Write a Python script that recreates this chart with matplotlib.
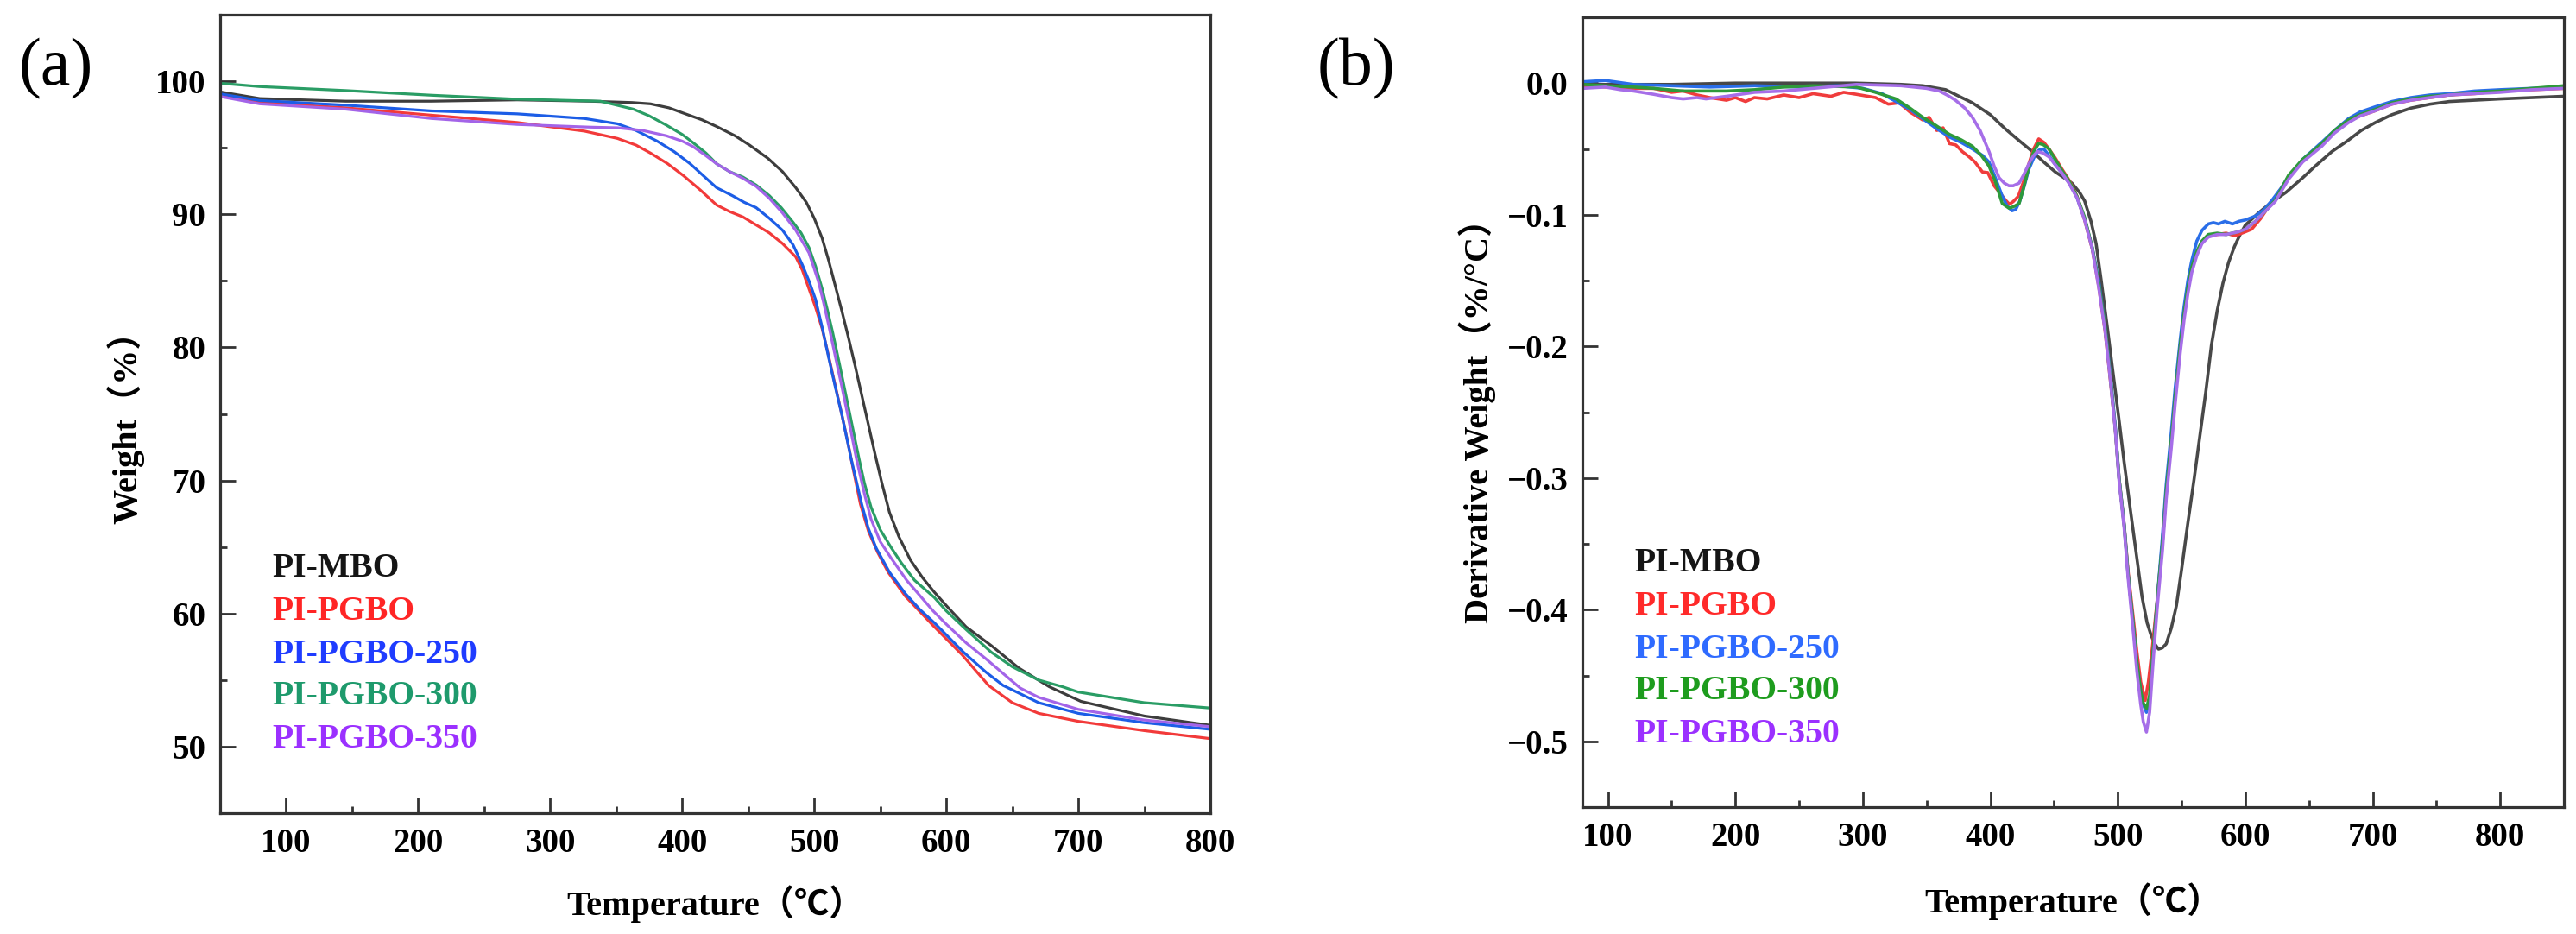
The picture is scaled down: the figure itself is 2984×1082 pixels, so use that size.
import matplotlib
matplotlib.use("Agg")
import matplotlib.pyplot as plt
from matplotlib.ticker import MultipleLocator

# ---------------- data ----------------
series_names = ["PI-MBO", "PI-PGBO", "PI-PGBO-250", "PI-PGBO-300", "PI-PGBO-350"]

# TGA: (temperature degC, weight %)
tga_mbo = [(50, 99.2), (80, 98.7), (145, 98.5), (210, 98.5), (275, 98.6), (330, 98.5), (362, 98.4),
           (376, 98.3), (390, 98.0), (401, 97.6), (415, 97.1), (426, 96.6), (440, 95.9), (451, 95.2),
           (465, 94.2), (476, 93.2), (486, 92.0), (494, 90.9), (500, 89.7), (506, 88.2), (511, 86.5),
           (516, 84.6), (521, 82.7), (526, 80.7), (531, 78.6), (536, 76.4), (541, 74.2), (546, 72.0),
           (551, 69.9), (557, 67.6), (564, 65.8), (573, 64.0), (582, 62.7), (591, 61.6), (600, 60.6),
           (615, 59.0), (634, 57.6), (655, 55.9), (678, 54.5), (702, 53.4), (750, 52.3), (800, 51.6)]
tga_pgbo = [(50, 98.95), (80, 98.4), (145, 98.0), (210, 97.45), (275, 96.9), (326, 96.25), (351, 95.7),
            (365, 95.2), (376, 94.6), (389, 93.8), (401, 92.9), (414, 91.8), (426, 90.7), (436, 90.2),
            (446, 89.8), (456, 89.2), (466, 88.6), (476, 87.8), (486, 86.8), (491, 85.8), (496, 84.4),
            (501, 83.0), (506, 81.4), (511, 79.3), (516, 77.1), (521, 74.9), (526, 72.6), (530, 70.6),
            (535, 68.2), (541, 66.2), (548, 64.6), (556, 63.1), (569, 61.3), (590, 59.1), (612, 56.9),
            (632, 54.6), (650, 53.3), (670, 52.5), (700, 51.9), (750, 51.2), (800, 50.6)]
tga_250 = [(50, 99.05), (80, 98.55), (145, 98.2), (210, 97.77), (275, 97.55), (326, 97.2), (351, 96.8),
           (365, 96.3), (381, 95.5), (394, 94.7), (406, 93.8), (416, 92.9), (426, 92.0), (438, 91.4),
           (447, 90.9), (456, 90.5), (466, 89.7), (476, 88.8), (484, 87.7), (491, 86.2), (496, 85.0),
           (501, 83.6), (506, 81.5), (511, 79.2), (516, 77.0), (521, 74.9), (528, 71.6), (536, 68.2),
           (541, 66.4), (547, 64.9), (557, 63.1), (569, 61.5), (580, 60.3), (591, 59.3), (613, 57.1),
           (630, 55.6), (643, 54.6), (670, 53.3), (700, 52.5), (750, 51.8), (800, 51.3)]
tga_300 = [(50, 99.85), (80, 99.6), (145, 99.3), (210, 98.95), (275, 98.65), (338, 98.5), (363, 97.9),
           (375, 97.4), (388, 96.7), (400, 96.0), (408, 95.4), (418, 94.6), (426, 93.8), (436, 93.2),
           (446, 92.8), (456, 92.2), (466, 91.4), (475, 90.5), (484, 89.4), (490, 88.6), (496, 87.5),
           (501, 86.1), (506, 84.4), (510, 82.8), (514, 81.1), (519, 78.8), (524, 76.4), (529, 74.0),
           (534, 71.6), (538, 69.8), (543, 68.0), (550, 66.3), (558, 65.0), (566, 63.8), (576, 62.5),
           (591, 61.2), (600, 60.2), (615, 58.8), (634, 57.1), (650, 56.0), (670, 55.0), (688, 54.5),
           (700, 54.1), (750, 53.3), (800, 52.9)]
tga_350 = [(50, 98.85), (80, 98.3), (145, 97.9), (210, 97.2), (275, 96.75), (330, 96.55), (351, 96.5),
           (370, 96.3), (388, 95.9), (400, 95.5), (408, 95.1), (418, 94.4), (426, 93.8), (436, 93.2),
           (446, 92.7), (456, 92.1), (466, 91.2), (476, 90.1), (486, 88.8), (496, 87.1), (503, 85.0),
           (507, 83.4), (511.5, 81.4), (516, 79.3), (521, 77.0), (526, 74.6), (532, 71.6), (538, 69.0),
           (543, 67.1), (550, 65.4), (558, 64.2), (570, 62.5), (590, 60.2), (600, 59.2), (615, 57.8),
           (630, 56.6), (656, 54.4), (670, 53.7), (700, 52.8), (750, 52.0), (800, 51.5)]

# DTG: (temperature degC, derivative weight %/degC)
dtg_mbo = [(80, -0.001), (150, -0.001), (200, 0.000), (250, 0.000), (294, 0.000), (330, -0.001),
           (347, -0.002), (365, -0.005), (386, -0.015), (400, -0.024), (412, -0.035), (423, -0.044),
           (433, -0.052), (442, -0.060), (451, -0.0675), (458, -0.072), (464, -0.076), (470, -0.083),
           (474, -0.0895), (479, -0.105), (483, -0.122), (487, -0.150), (492, -0.187), (496, -0.218),
           (501, -0.256), (505, -0.288), (510, -0.325), (515, -0.361), (519, -0.390), (523, -0.410),
           (526, -0.419), (529, -0.426), (532, -0.430), (535, -0.429), (538, -0.426), (542, -0.414),
           (546, -0.397), (550, -0.370), (555, -0.334), (560, -0.300), (564, -0.271), (569, -0.235),
           (573.5, -0.199), (578, -0.173), (582.5, -0.152), (587, -0.136), (591.6, -0.124), (596, -0.115),
           (600, -0.108), (610, -0.099), (620, -0.091), (632, -0.083), (645, -0.072), (655, -0.063),
           (668, -0.052), (680, -0.044), (691, -0.036), (702, -0.030), (715, -0.024), (730, -0.019),
           (745, -0.016), (760, -0.014), (780, -0.013), (800, -0.012), (825, -0.011), (850, -0.010)]
dtg_pgbo = [(80, -0.002), (98, -0.003), (120, -0.004), (136, -0.004), (150, -0.007), (159, -0.006),
            (170, -0.009), (180, -0.011), (193, -0.013), (200, -0.011), (208, -0.014), (215, -0.011),
            (225, -0.012), (238, -0.009), (250, -0.011), (261, -0.008), (275, -0.010), (285, -0.007),
            (295, -0.0085), (310, -0.011), (320, -0.016), (328.6, -0.015), (337, -0.022), (347, -0.028),
            (352, -0.026), (358, -0.036), (363, -0.034), (368, -0.046), (373, -0.047), (378, -0.052),
            (383.4, -0.056), (388, -0.060), (393.8, -0.0675), (398, -0.068), (403, -0.078), (408, -0.084),
            (412, -0.089), (415, -0.092), (418, -0.090), (422, -0.086), (426, -0.075), (430, -0.062),
            (434, -0.050), (438, -0.0424), (442, -0.045), (446, -0.050), (451, -0.057), (456, -0.065),
            (462, -0.074), (468, -0.086), (474, -0.104), (480, -0.126), (485, -0.154), (490, -0.188),
            (494, -0.224), (498, -0.262), (501, -0.300), (505, -0.335), (508, -0.370), (512, -0.405),
            (515, -0.432), (518, -0.455), (521.5, -0.469), (524, -0.455), (527, -0.430), (531, -0.392),
            (535, -0.350), (538, -0.310), (542, -0.271), (545, -0.238), (549, -0.199), (552, -0.176),
            (555, -0.156), (558, -0.141), (562, -0.129), (566, -0.121), (571, -0.116), (578, -0.115),
            (585, -0.114), (592, -0.116), (600, -0.113), (605, -0.111), (612, -0.103), (621, -0.090),
            (634, -0.072), (645, -0.059), (660, -0.047), (670, -0.037), (681, -0.029), (690, -0.025),
            (702, -0.021), (715, -0.016), (730, -0.013), (745, -0.011), (760, -0.009), (780, -0.008),
            (800, -0.006), (825, -0.005), (850, -0.004)]
dtg_250 = [(80, 0.001), (98, 0.002), (120, -0.001), (150, -0.002), (180, -0.003), (215, -0.002),
           (250, -0.003), (280, -0.002), (300, -0.004), (315, -0.008), (326, -0.014), (337, -0.020),
           (347, -0.027), (357, -0.034), (368, -0.041), (377, -0.045), (386, -0.050), (394, -0.055),
           (399, -0.060), (404, -0.072), (409, -0.085), (413, -0.093), (417, -0.097), (420, -0.096),
           (423, -0.090), (427, -0.077), (430, -0.066), (434, -0.057), (438, -0.051), (442, -0.050),
           (446, -0.055), (451, -0.062), (456, -0.068), (462, -0.076), (468, -0.087), (474, -0.103),
           (480, -0.125), (485, -0.150), (490, -0.185), (494, -0.220), (498, -0.260), (501, -0.300),
           (505, -0.335), (508, -0.372), (512, -0.410), (515, -0.440), (518, -0.462), (520, -0.472),
           (522.5, -0.478), (525, -0.468), (528, -0.430), (531, -0.392), (535, -0.345), (538, -0.305),
           (542, -0.265), (545, -0.232), (549, -0.195), (552, -0.170), (555, -0.150), (558, -0.135),
           (562, -0.120), (566, -0.112), (571, -0.107), (575, -0.106), (579, -0.107), (584, -0.105),
           (590, -0.107), (595, -0.105), (600, -0.104), (608, -0.101), (615, -0.096), (621, -0.089),
           (628, -0.080), (634, -0.071), (645, -0.058), (660, -0.045), (670, -0.036), (681, -0.027),
           (690, -0.022), (702, -0.018), (715, -0.014), (730, -0.011), (745, -0.009), (760, -0.008),
           (780, -0.006), (800, -0.005), (825, -0.004), (850, -0.003)]
dtg_300 = [(80, -0.001), (98, -0.002), (120, -0.003), (136, -0.004), (159, -0.006), (193, -0.006),
           (215, -0.005), (238, -0.003), (261, -0.002), (295, -0.003), (310, -0.007), (326, -0.012),
           (337, -0.019), (347, -0.026), (357, -0.032), (368, -0.039), (377, -0.043), (386, -0.048),
           (393, -0.055), (399, -0.063), (404, -0.075), (409.4, -0.0915), (414.6, -0.095), (418, -0.094),
           (422.6, -0.0915), (426, -0.080), (430.4, -0.063), (434, -0.052), (438, -0.0457), (442, -0.047),
           (446, -0.050), (451, -0.058), (456, -0.066), (461.6, -0.074), (468, -0.086), (474, -0.102),
           (480, -0.125), (485, -0.152), (490, -0.185), (494, -0.222), (498, -0.262), (501, -0.300),
           (505, -0.336), (508, -0.372), (512, -0.410), (515, -0.440), (518, -0.462), (520, -0.471),
           (522.6, -0.475), (525, -0.465), (528, -0.428), (531, -0.392), (535, -0.350), (538, -0.310),
           (542, -0.271), (545, -0.238), (549, -0.199), (552, -0.175), (555, -0.155), (558, -0.140),
           (562, -0.128), (566, -0.120), (571, -0.115), (578, -0.114), (585, -0.115), (594.6, -0.113),
           (600, -0.111), (608, -0.105), (615, -0.098), (623.5, -0.089), (634, -0.070), (645, -0.058),
           (660, -0.046), (670, -0.036), (681, -0.028), (690, -0.024), (702, -0.020), (715, -0.015),
           (730, -0.012), (745, -0.010), (760, -0.009), (780, -0.007), (800, -0.006), (825, -0.004),
           (850, -0.002)]
dtg_350 = [(80, -0.004), (98, -0.003), (110, -0.005), (120, -0.006), (136, -0.0085), (150, -0.011),
           (159, -0.012), (170, -0.011), (177, -0.012), (193, -0.010), (215, -0.007), (238, -0.006),
           (261, -0.004), (295, -0.001), (330, -0.002), (350, -0.004), (360, -0.006), (366, -0.009),
           (372.7, -0.013), (380, -0.019), (386, -0.026), (392, -0.036), (399, -0.052), (403, -0.063),
           (407, -0.072), (411, -0.076), (414.6, -0.078), (418, -0.078), (422.6, -0.076), (426, -0.070),
           (430.4, -0.061), (434, -0.055), (437, -0.052), (441, -0.053), (446, -0.056), (451, -0.062),
           (456, -0.068), (461.6, -0.076), (468, -0.087), (474, -0.104), (480, -0.126), (485, -0.155),
           (490, -0.188), (494, -0.224), (498, -0.263), (501, -0.302), (505, -0.338), (508, -0.375),
           (512, -0.415), (515, -0.447), (518, -0.472), (520, -0.485), (522.5, -0.493), (525, -0.478),
           (528, -0.436), (531, -0.398), (535, -0.356), (538, -0.316), (542, -0.277), (545, -0.244),
           (549, -0.205), (552, -0.180), (555, -0.160), (558, -0.144), (562, -0.131), (566, -0.122),
           (571, -0.117), (578, -0.115), (585, -0.115), (594.6, -0.113), (600, -0.111), (608, -0.105),
           (615, -0.098), (623.5, -0.090), (634, -0.073), (645, -0.060), (660, -0.048), (670, -0.038),
           (681, -0.030), (690, -0.025), (702, -0.021), (715, -0.016), (730, -0.013), (745, -0.011),
           (760, -0.009), (780, -0.008), (800, -0.007), (825, -0.005), (850, -0.004)]

x_ticks = [100, 200, 300, 400, 500, 600, 700, 800]
tga_yticks = [50, 60, 70, 80, 90, 100]
dtg_yticks = [-0.5, -0.4, -0.3, -0.2, -0.1, 0.0]

# ---------------- style ----------------
plt.rcParams['font.family'] = ['Liberation Serif', 'Noto Sans CJK SC', 'DejaVu Sans']
plt.rcParams['font.weight'] = 'bold'
plt.rcParams['axes.unicode_minus'] = True

W, H = 2984, 1082
fig = plt.figure(figsize=(W / 100, H / 100), dpi=100)

def frac_box(x0, y0, x1, y1):
    return [x0 / W, 1 - y1 / H, (x1 - x0) / W, (y1 - y0) / H]

ax1 = fig.add_axes(frac_box(255, 17, 1402, 942))
ax2 = fig.add_axes(frac_box(1833, 20, 2970, 935))

tga_colors = ['#3d3d3d', '#f23a3a', '#1c5de6', '#2a9d65', '#a364e8']
tga_text_colors = ['#151515', '#ff2525', '#1f3cff', '#1e9a6c', '#9b30ff']
dtg_colors = ['#484848', '#f03c3c', '#2a6ee8', '#2e9a3a', '#a66ee8']
dtg_text_colors = ['#151515', '#ff2a2a', '#2f6bff', '#1e9c1e', '#9b30ff']

tga_data = [tga_mbo, tga_pgbo, tga_250, tga_300, tga_350]
dtg_data = [dtg_mbo, dtg_pgbo, dtg_250, dtg_300, dtg_350]

for pts, c in zip(tga_data, tga_colors):
    t, w = zip(*pts)
    ax1.plot(t, w, color=c, lw=2.3, solid_joinstyle='round')
for pts, c in zip(dtg_data, dtg_colors):
    t, d = zip(*pts)
    ax2.plot(t, d, color=c, lw=2.6, solid_joinstyle='round')

ax1.set_xlim(50, 800)
ax1.set_ylim(45, 105)
ax1.set_yticks(tga_yticks)
ax1.yaxis.set_minor_locator(MultipleLocator(5))
ax2.set_xlim(80, 850)
ax2.set_ylim(-0.55, 0.05)
ax2.set_yticks(dtg_yticks)
ax2.set_yticklabels([f"{v:.1f}".replace('-', '\u2212') for v in dtg_yticks])
ax2.yaxis.set_minor_locator(MultipleLocator(0.05))

for ax in (ax1, ax2):
    ax.set_xticks(x_ticks)
    ax.xaxis.set_minor_locator(MultipleLocator(50))
    ax.tick_params(which='major', direction='in', length=13, width=2.0, color='#333333',
                   labelsize=28, pad=12, top=False, right=False)
    ax.tick_params(which='minor', direction='in', length=6, width=2.0, color='#333333',
                   top=False, right=False)
    for lab in ax.get_xticklabels() + ax.get_yticklabels():
        lab.set_fontweight('bold')
    for sp in ax.spines.values():
        sp.set_linewidth(2.3)
        sp.set_color('#333333')

# axis labels
fig.text((255 + 1402) / 2 / W, 1 - 1047 / H, 'Temperature（℃）', ha='center', va='center',
         fontsize=29, fontweight='bold')
fig.text((1833 + 2970) / 2 / W, 1 - 1044 / H, 'Temperature（℃）', ha='center', va='center',
         fontsize=29, fontweight='bold')
fig.text(146 / W, 1 - 485 / H, 'Weight（%）', ha='center', va='center', rotation=90,
         fontsize=29, fontweight='bold')
fig.text(1711 / W, 1 - 478 / H, 'Derivative Weight（%/°C）', ha='center', va='center', rotation=90,
         fontsize=29, fontweight='bold')

# panel labels
fig.text(65 / W, 1 - 80 / H, '(a)', ha='center', va='center', fontsize=56, fontweight='normal')
fig.text(1571 / W, 1 - 80 / H, '(b)', ha='center', va='center', fontsize=56, fontweight='normal')

# legends (colored text)
left_rows = [659, 708, 758, 807, 857]
right_rows = [652, 702, 752, 801, 851]
for name, c, yy in zip(series_names, tga_text_colors, left_rows):
    fig.text(315 / W, 1 - yy / H, name, ha='left', va='center', fontsize=28.5,
             fontweight='bold', color=c)
for name, c, yy in zip(series_names, dtg_text_colors, right_rows):
    fig.text(1893 / W, 1 - yy / H, name, ha='left', va='center', fontsize=28.5,
             fontweight='bold', color=c)

fig.savefig('out.png', dpi=100, facecolor='white')
